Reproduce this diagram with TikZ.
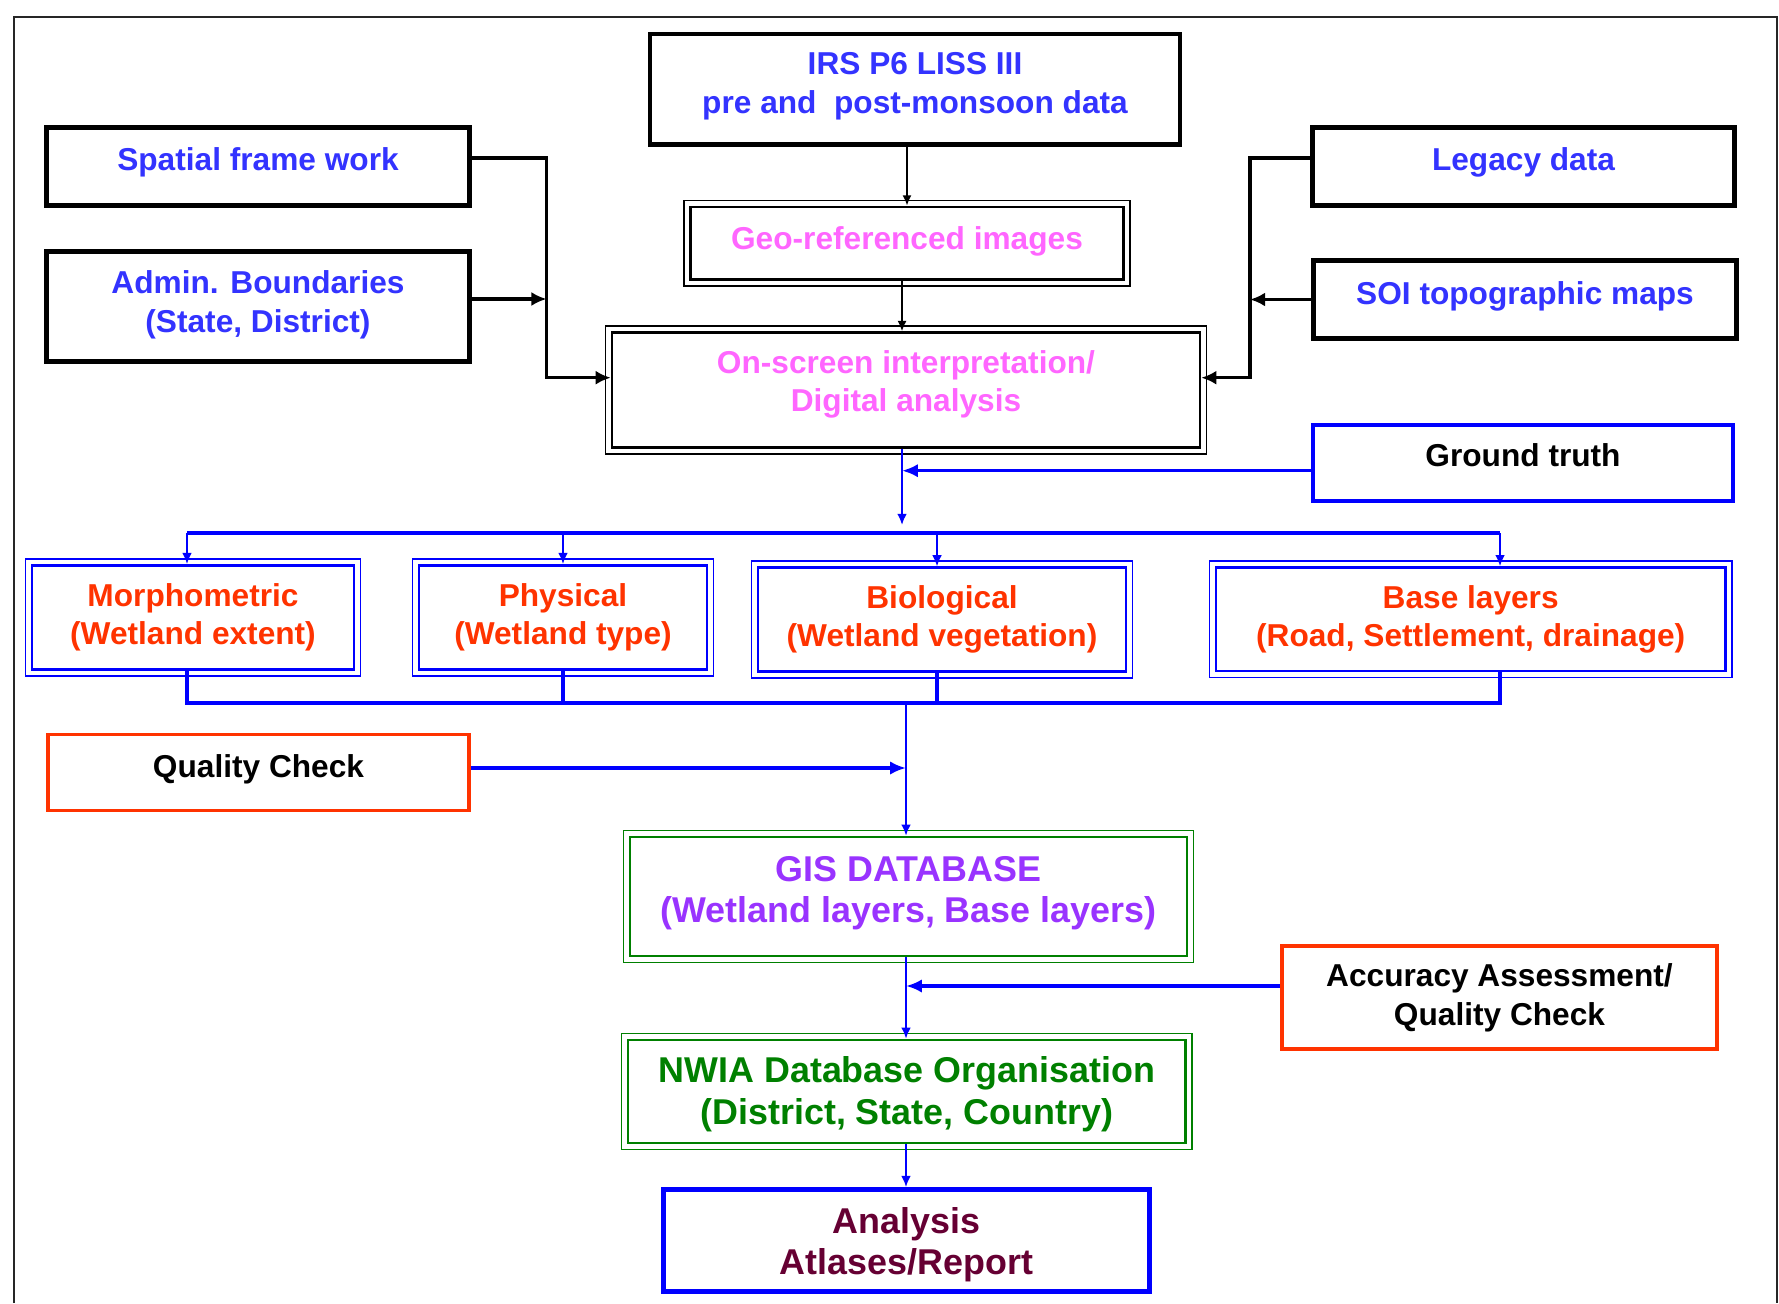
\documentclass[tikz,border=0pt]{standalone}
\usepackage{fontspec}
\setmainfont{Liberation Sans}
\usetikzlibrary{arrows.meta}
\definecolor{txtblue}{RGB}{51,51,255}
\definecolor{txtpink}{RGB}{255,102,255}
\definecolor{txtred}{RGB}{255,51,0}
\definecolor{txtpurple}{RGB}{153,51,255}
\definecolor{txtgreen}{RGB}{0,128,0}
\definecolor{txtmaroon}{RGB}{102,0,51}
\definecolor{lineblue}{RGB}{0,0,255}

\begin{document}
\begin{tikzpicture}[x=0.01cm, y=-0.01cm,
        every node/.style={align=center, inner sep=0pt, font=\fontsize{9}{11}\selectfont\bfseries},
        blackbox/.style={draw=black, line width=1.33pt, text=txtblue},
        blackdbl/.style={draw=black, line width=0.75pt, text=txtpink},
        bluedbl/.style={draw=lineblue, line width=0.75pt, text=txtred},
        greendbl/.style={draw=txtgreen, line width=0.75pt, font=\fontsize{10.2}{11.7}\selectfont\bfseries},
        outerline/.style={line width=0.45pt},
        redbox/.style={draw=txtred, line width=1pt},
        blackarrow/.style={line width=0.9pt, -{Latex[length=4.3pt, width=4pt]}},
        thinblack/.style={line width=0.7pt, -{Latex[length=3pt, width=2.6pt]}},
        bigblue/.style={draw=lineblue, line width=1pt, -{Latex[length=4.5pt, width=3.8pt]}},
        thinblue/.style={draw=lineblue, line width=0.6pt, -{Latex[length=3.2pt, width=2.8pt]}},
        bus/.style={draw=lineblue, line width=1pt}]
        \useasboundingbox (0,0) rectangle (1779,1303);
        \draw[line width=0.6pt, black!85] (13.8,1303) -- (13.8,17.3) -- (1777.4,17.3) -- (1777.4,1303);

        % Inputs
        \node[blackbox, text depth=3.5pt, minimum width=5.295cm, minimum height=1.107cm] (1) at (915, 89.4) {IRS P6 LISS III\\pre and~ post-monsoon data};
        \node[blackbox, text depth=4.5pt, minimum width=4.225cm, minimum height=0.78cm] (2) at (258, 166.5) {Spatial frame work};
        \node[blackbox, text depth=2.9pt, minimum width=4.225cm, minimum height=1.1cm] (3) at (258, 306.5) {Admin. Boundaries\\(State, District)};
        \node[blackdbl, text depth=3.2pt, minimum width=4.322cm, minimum height=0.725cm] (4) at (907, 243.4) {Geo-referenced images};
        \node[blackdbl, text depth=5.1pt, minimum width=5.875cm, minimum height=1.144cm] (5) at (906, 390) {On-screen interpretation/\\Digital analysis};
        \node[blackbox, text depth=4.5pt, minimum width=4.22cm, minimum height=0.78cm] (6) at (1523.5, 166.5) {Legacy data};
        \node[blackbox, text depth=3.8pt, minimum width=4.23cm, minimum height=0.785cm] (7) at (1525, 299.5) {SOI topographic maps};
        \node[draw=lineblue, line width=1.1pt, text depth=4.5pt, minimum width=4.205cm, minimum height=0.766cm] (8) at (1523, 463) {Ground truth};

        % Layers
        \node[bluedbl, minimum width=3.218cm, minimum height=1.038cm] (9) at (193, 617.3) {Morphometric\\(Wetland extent)};
        \node[bluedbl, minimum width=2.878cm, minimum height=1.038cm] (10) at (563, 617.3) {Physical\\(Wetland type)};
        \node[bluedbl, minimum width=3.678cm, minimum height=1.034cm] (11) at (942, 619.5) {Biological\\(Wetland vegetation)};
        \node[bluedbl, minimum width=5.092cm, minimum height=1.034cm] (12) at (1470.7, 619.3) {Base layers\\(Road, Settlement, drainage)};

        % Database and outputs
        \node[redbox, text depth=3.8pt, minimum width=4.21cm, minimum height=0.76cm] (13) at (258.5, 772.5) {Quality Check};
        \node[greendbl, text=txtpurple, text depth=4.05pt, minimum width=5.568cm, minimum height=1.188cm] (14) at (908.5, 896.5) {GIS DATABASE\\(Wetland layers, Base layers)};
        \node[redbox, minimum width=4.35cm, minimum height=1.03cm] (15) at (1499.5, 997.5) {Accuracy Assessment/\\Quality Check};
        \node[greendbl, text=txtgreen, text height=20.6pt, minimum width=5.572cm, minimum height=1.028cm] (16) at (906.8, 1091.5) {NWIA Database Organisation\\(District, State, Country)};
        \node[draw=lineblue, line width=1.5pt, text=txtmaroon, font=\fontsize{10.2}{11.7}\selectfont\bfseries, text height=21.6pt, minimum width=4.855cm, minimum height=1.015cm] (17) at (906.5, 1240.5) {Analysis\\Atlases/Report};

        % outer lines of the double boxes
        \foreach \n/\c in {4/black, 5/black, 9/lineblue, 10/lineblue, 11/lineblue, 12/lineblue, 14/txtgreen, 16/txtgreen}
            \draw[outerline, draw=\c] ([shift={(-1.5pt,1.5pt)}]\n.north west) rectangle ([shift={(1.5pt,-1.5pt)}]\n.south east);

        \coordinate (c1) at (546.5, 377.7);
        \coordinate (c2) at (1250, 377.7);
        \coordinate (s2) at ([yshift=0.085cm]2.east);
        \coordinate (s3) at ([yshift=0.075cm]3.east);
        \coordinate (s6) at ([yshift=0.085cm]6.west);
        \coordinate (s7) at (7.west);
        \coordinate (t) at (902, 525);
        \coordinate (s8) at ([yshift=-0.077cm]8.west);
        \coordinate (b1) at (187, 533);
        \coordinate (b2) at (563, 533);
        \coordinate (b3) at (937, 533);
        \coordinate (b4) at (1500, 533);
        \coordinate (m) at (906, 703);
        \coordinate (s13) at ([yshift=0.045cm]13.east);
        \coordinate (s15) at ([yshift=0.115cm]15.west);

        \draw[thinblack] (4.north |- 1.south) -- (4.north);
        \draw[thinblack] (t |- 4.south) -- (t |- 5.north);
        \draw[blackarrow] (s2) -| (c1) -- (c1 -| 5.west);
        \draw[blackarrow] (s3) -- (s3 -| c1);
        \draw[blackarrow] (s6) -| (c2) -- (c2 -| 5.east);
        \draw[blackarrow] (s7) -- (s7 -| c2);

        \draw[thinblue] (t |- 5.south) -- (t);
        \draw[bigblue] (s8) -- (s8 -| t);
        \draw[bus] (b1) -- (b4);
        \draw[thinblue] (b1) -- (b1 |- 9.north);
        \draw[thinblue] (b2) -- (b2 |- 10.north);
        \draw[thinblue] (b3) -- (b3 |- 11.north);
        \draw[thinblue] (b4) -- (b4 |- 12.north);
        \draw[bus] (b1 |- 9.south) -- (b1 |- m) -- (b4 |- m) -- (b4 |- 12.south);
        \draw[bus] (b2 |- 10.south) -- (b2 |- m);
        \draw[bus] (b3 |- 11.south) -- (b3 |- m);

        \draw[thinblue] (m) -- (m |- 14.north);
        \draw[bigblue] (s13) -- (s13 -| m);
        \draw[bigblue] (s15) -- (s15 -| m);
        \draw[thinblue] (m |- 14.south) -- (m |- 16.north);
        \draw[thinblue] (m |- 16.south) -- (m |- 17.north);
    \end{tikzpicture}
\end{document}
